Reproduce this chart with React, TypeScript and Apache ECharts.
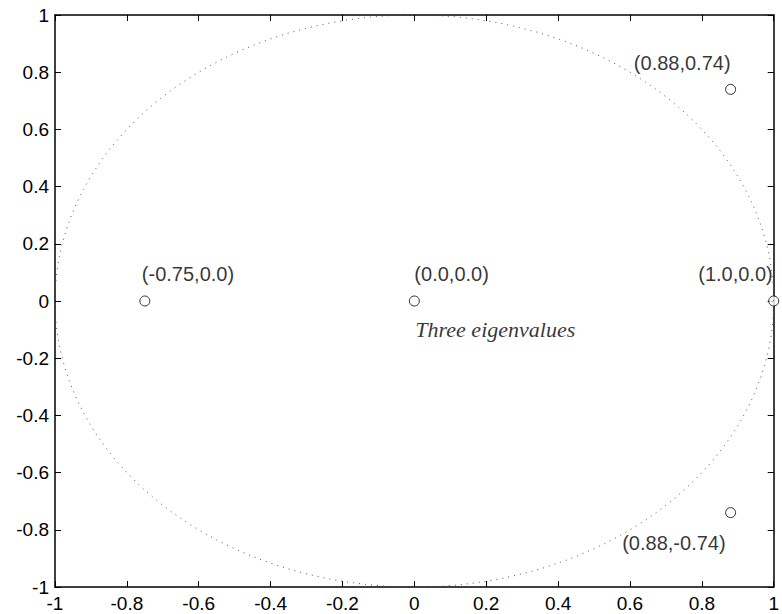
import React, { useEffect, useRef } from "react";
import * as echarts from "echarts";

const pointX = [-0.75, 0.0, 1.0, 0.88, 0.88];
const pointY = [0.0, 0.0, 0.0, 0.74, -0.74];
const pointLabels = ["(-0.75,0.0)", "(0.0,0.0)", "(1.0,0.0)", "(0.88,0.74)", "(0.88,-0.74)"];
const noteText = "Three eigenvalues";

// label placement per point: [align, dx, dy]
const labelPlacement: [string, number, number][] = [
  ["left", -3, -27],
  ["left", 0, -27],
  ["right", -1, -27],
  ["right", 0, -26],
  ["right", -5, 30],
];

export default function App() {
  const ref = useRef<HTMLDivElement>(null);
  useEffect(() => {
    if (!ref.current) return;
    const chart = echarts.init(ref.current, null, { renderer: "svg" });
    const circle: number[][] = [];
    for (let i = 0; i <= 360; i++) {
      const t = (i * Math.PI) / 180;
      circle.push([Math.cos(t), Math.sin(t)]);
    }
    const fmt = (v: number) => String(Math.round(v * 10) / 10);
    const font = "'Liberation Sans', Arial, Helvetica, sans-serif";
    const baseAxis = {
      type: "value",
      min: -1,
      max: 1,
      interval: 0.2,
      axisLine: { show: true, onZero: false, lineStyle: { color: "#000", width: 1.5 } },
      axisTick: { show: true, inside: true, length: 6, lineStyle: { color: "#000", width: 1 } },
      splitLine: { show: false },
    };
    chart.setOption({
      animation: false,
      backgroundColor: "#fff",
      grid: { left: 55, top: 15, right: 2, bottom: 27, containLabel: false },
      xAxis: [
        {
          ...baseAxis,
          position: "bottom",
          axisLabel: { formatter: fmt, color: "#000", fontSize: 19, fontFamily: font, margin: 7 },
        },
        { ...baseAxis, position: "top", axisLabel: { show: false } },
      ],
      yAxis: [
        {
          ...baseAxis,
          position: "left",
          axisLabel: { formatter: fmt, color: "#000", fontSize: 19, fontFamily: font, margin: 6 },
        },
        { ...baseAxis, position: "right", axisLabel: { show: false } },
      ],
      series: [
        {
          type: "line",
          data: circle,
          showSymbol: false,
          symbol: "none",
          lineStyle: { color: "#555", width: 1, type: [1, 5] },
          silent: true,
        },
        {
          type: "scatter",
          symbol: "circle",
          symbolSize: 10,
          itemStyle: { color: "#fff", borderColor: "#000", borderWidth: 1 },
          data: pointX.map((x, i) => ({
            value: [x, pointY[i]],
            label: {
              show: true,
              formatter: pointLabels[i],
              position: "inside",
              align: labelPlacement[i][0],
              verticalAlign: "middle",
              offset: [labelPlacement[i][1], labelPlacement[i][2]],
              color: "#000",
              fontSize: 20,
              fontFamily: font,
            },
          })),
          clip: false,
        },
        {
          type: "scatter",
          symbol: "circle",
          symbolSize: 1,
          itemStyle: { color: "rgba(0,0,0,0)" },
          silent: true,
          data: [
            {
              value: [pointX[1], pointY[1]],
              label: {
                show: true,
                formatter: noteText,
                position: "inside",
                align: "left",
                verticalAlign: "middle",
                offset: [1, 28],
                color: "#000",
                fontSize: 22,
                fontStyle: "italic",
                fontFamily: "'Liberation Serif', 'Times New Roman', serif",
              },
            },
          ],
        },
      ],
    });
    return () => chart.dispose();
  }, []);
  return <div ref={ref} style={{ width: 782, height: 614, position: "absolute", left: 0, top: 0 }} />;
}
